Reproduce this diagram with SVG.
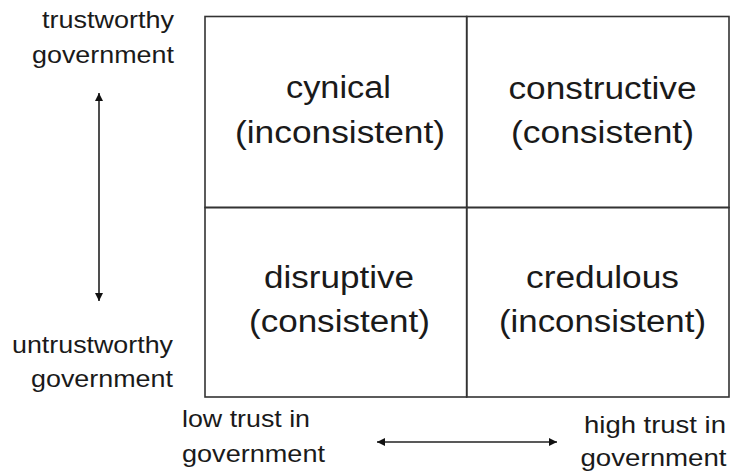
<svg xmlns="http://www.w3.org/2000/svg" width="731" height="473" viewBox="0 0 731 473">
  <style>
    .cell { fill: none; stroke: #333; stroke-width: 1.6; }
    .q { font-family: "Liberation Sans", Arial, sans-serif; font-size: 31px; fill: #1a1a1a; text-anchor: middle; }
    .lab { font-family: "Liberation Sans", Arial, sans-serif; font-size: 24px; fill: #1a1a1a; }
    .r { text-anchor: end; }
    .l { text-anchor: start; }
    .arrow { stroke: #222; stroke-width: 1.6; fill: none; marker-start: url(#ah); marker-end: url(#ah); }
  </style>
  <defs>
    <marker id="ah" viewBox="0 0 10 10" refX="10" refY="5" markerUnits="userSpaceOnUse" markerWidth="8" markerHeight="8" orient="auto-start-reverse">
      <path d="M0,0 L10,5 L0,10 z" fill="#111"/>
    </marker>
  </defs>
  <rect width="731" height="473" fill="#fff"/>

  <g id="q-cynical">
    <rect class="cell" x="205" y="16.5" width="261.7" height="191"/>
    <text class="q" x="338.5" y="98" textLength="105" lengthAdjust="spacingAndGlyphs">cynical</text>
    <text class="q" x="340" y="142.5" textLength="210" lengthAdjust="spacingAndGlyphs">(inconsistent)</text>
  </g>
  <g id="q-constructive">
    <rect class="cell" x="466.7" y="16.5" width="262.3" height="191"/>
    <text class="q" x="602.5" y="99" textLength="188" lengthAdjust="spacingAndGlyphs">constructive</text>
    <text class="q" x="602.5" y="143" textLength="183" lengthAdjust="spacingAndGlyphs">(consistent)</text>
  </g>
  <g id="q-disruptive">
    <rect class="cell" x="205" y="207.5" width="261.7" height="189.5"/>
    <text class="q" x="339" y="288" textLength="150" lengthAdjust="spacingAndGlyphs">disruptive</text>
    <text class="q" x="339.5" y="332" textLength="181" lengthAdjust="spacingAndGlyphs">(consistent)</text>
  </g>
  <g id="q-credulous">
    <rect class="cell" x="466.7" y="207.5" width="262.3" height="189.5"/>
    <text class="q" x="602.5" y="288" textLength="153" lengthAdjust="spacingAndGlyphs">credulous</text>
    <text class="q" x="602.5" y="332" textLength="207" lengthAdjust="spacingAndGlyphs">(inconsistent)</text>
  </g>

  <g id="label-trustworthy">
    <text class="lab r" x="174" y="27.5" textLength="132" lengthAdjust="spacingAndGlyphs">trustworthy</text>
    <text class="lab r" x="174" y="62.5" textLength="142" lengthAdjust="spacingAndGlyphs">government</text>
  </g>
  <g id="label-untrustworthy">
    <text class="lab r" x="173" y="352.5" textLength="161" lengthAdjust="spacingAndGlyphs">untrustworthy</text>
    <text class="lab r" x="173" y="387" textLength="142" lengthAdjust="spacingAndGlyphs">government</text>
  </g>
  <g id="label-low-trust">
    <text class="lab l" x="182" y="427" textLength="128" lengthAdjust="spacingAndGlyphs">low trust in</text>
    <text class="lab l" x="182" y="462" textLength="143" lengthAdjust="spacingAndGlyphs">government</text>
  </g>
  <g id="label-high-trust">
    <text class="lab r" x="726" y="433" textLength="142" lengthAdjust="spacingAndGlyphs">high trust in</text>
    <text class="lab r" x="726.5" y="465.5" textLength="146" lengthAdjust="spacingAndGlyphs">government</text>
  </g>

  <g id="connectors">
    <path class="arrow" d="M99,93 L99,301"/>
    <path class="arrow" d="M377,442 L557,442"/>
  </g>
</svg>
